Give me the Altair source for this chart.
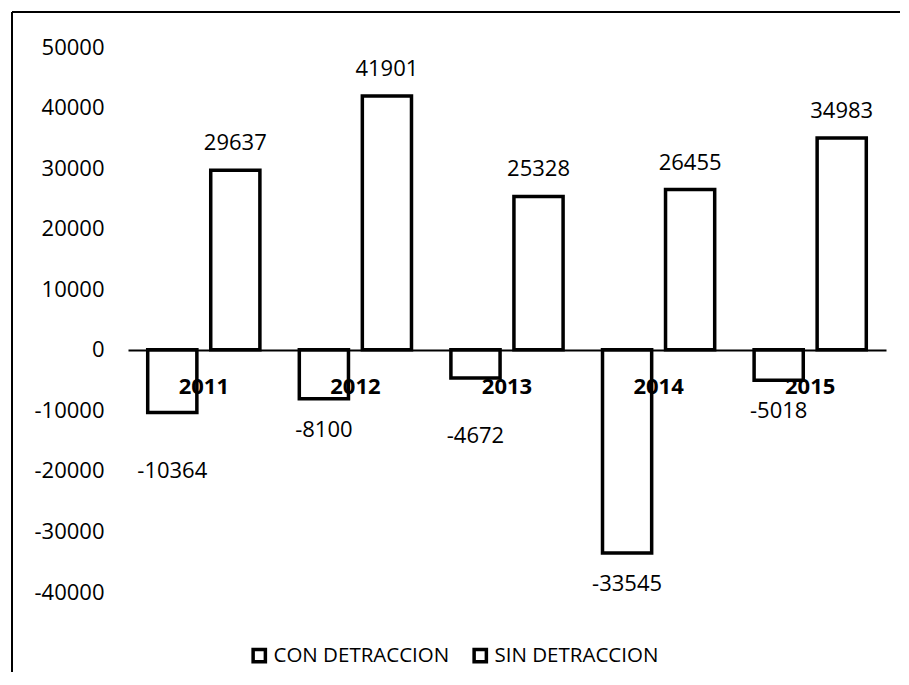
import altair as alt
import pandas as pd

years = ["2011", "2012", "2013", "2014", "2015"]
con_detraccion = [-10364, -8100, -4672, -33545, -5018]
sin_detraccion = [29637, 41901, 25328, 26455, 34983]
series = ["CON DETRACCION", "SIN DETRACCION"]
y_ticks = [-40000, -30000, -20000, -10000, 0, 10000, 20000, 30000, 40000, 50000]

rows = []
for i, yr in enumerate(years):
    rows.append({"anio": yr, "serie": series[0], "valor": con_detraccion[i]})
    rows.append({"anio": yr, "serie": series[1], "valor": sin_detraccion[i]})
df = pd.DataFrame(rows)

FONT = "Open Sans"
W, H = 758, 545

x_enc = alt.X("anio:N", sort=years,
              scale=alt.Scale(paddingInner=0.26, paddingOuter=0.13),
              axis=alt.Axis(title=None, orient="bottom", offset=-242, labelAngle=0,
                            domainColor="black", domainWidth=2, ticks=False,
                            labelPadding=26, labelFontSize=22, labelFontWeight="bold",
                            labelColor="black", labelFont=FONT, zindex=1))
xo_enc = alt.XOffset("serie:N", sort=series,
                     scale=alt.Scale(paddingInner=0.22, paddingOuter=0))
y_enc = alt.Y("valor:Q",
              scale=alt.Scale(domain=[-40000, 50000], nice=False),
              axis=alt.Axis(title=None, values=y_ticks, grid=False, domain=False,
                            ticks=False, labelPadding=24, labelFontSize=22,
                            labelColor="black", labelFont=FONT,
                            labelExpr="toString(datum.value)"))

base = alt.Chart(df).transform_calculate(etiqueta="toString(datum.valor)")

bars = base.mark_bar(stroke="black", strokeWidth=3.5, fill="white").encode(
    x=x_enc, xOffset=xo_enc, y=y_enc,
    color=alt.Color("serie:N", sort=series,
                    scale=alt.Scale(domain=series, range=["white", "white"]),
                    legend=alt.Legend(title=None, orient="none", direction="horizontal",
                                      legendX=121, legendY=598, symbolType="square",
                                      symbolSize=150, symbolStrokeColor="black",
                                      symbolStrokeWidth=3.5, symbolFillColor="white",
                                      labelFontSize=20.5, labelFont=FONT, labelColor="black",
                                      labelLimit=400, labelOffset=4, columnPadding=17,
                                      padding=0)),
)

def labels(cond, dy):
    return base.transform_filter(cond).mark_text(
        dy=dy, fontSize=22, font=FONT, color="black", baseline="middle").encode(
        x=alt.X("anio:N", sort=years), xOffset=alt.XOffset("serie:N", sort=series),
        y="valor:Q", text="etiqueta:N")

pos_labels = labels("datum.valor > 0", -27)
neg_near = labels("datum.valor < 0 && (datum.anio == '2012' || datum.anio == '2014' || datum.anio == '2015')", 31)
neg_far = labels("datum.valor < 0 && (datum.anio == '2011' || datum.anio == '2013')", 58)

frame_top = alt.Chart(df).mark_rule(color="black", strokeWidth=2).encode(
    x=alt.value(-116), x2=alt.value(900), y=alt.value(-35))
frame_left = alt.Chart(df).mark_rule(color="black", strokeWidth=2).encode(
    x=alt.value(-116), y=alt.value(-35), y2=alt.value(700))

chart = alt.layer(bars, pos_labels, neg_near, neg_far, frame_top, frame_left).properties(
    width=W, height=H,
    autosize=alt.AutoSizeParams(type="none"),
    padding={"left": 120, "top": 39, "right": 14, "bottom": 80},
    background="white",
).configure_view(stroke=None)

chart.save("out.html", embed_options={"renderer": "svg", "actions": False})
